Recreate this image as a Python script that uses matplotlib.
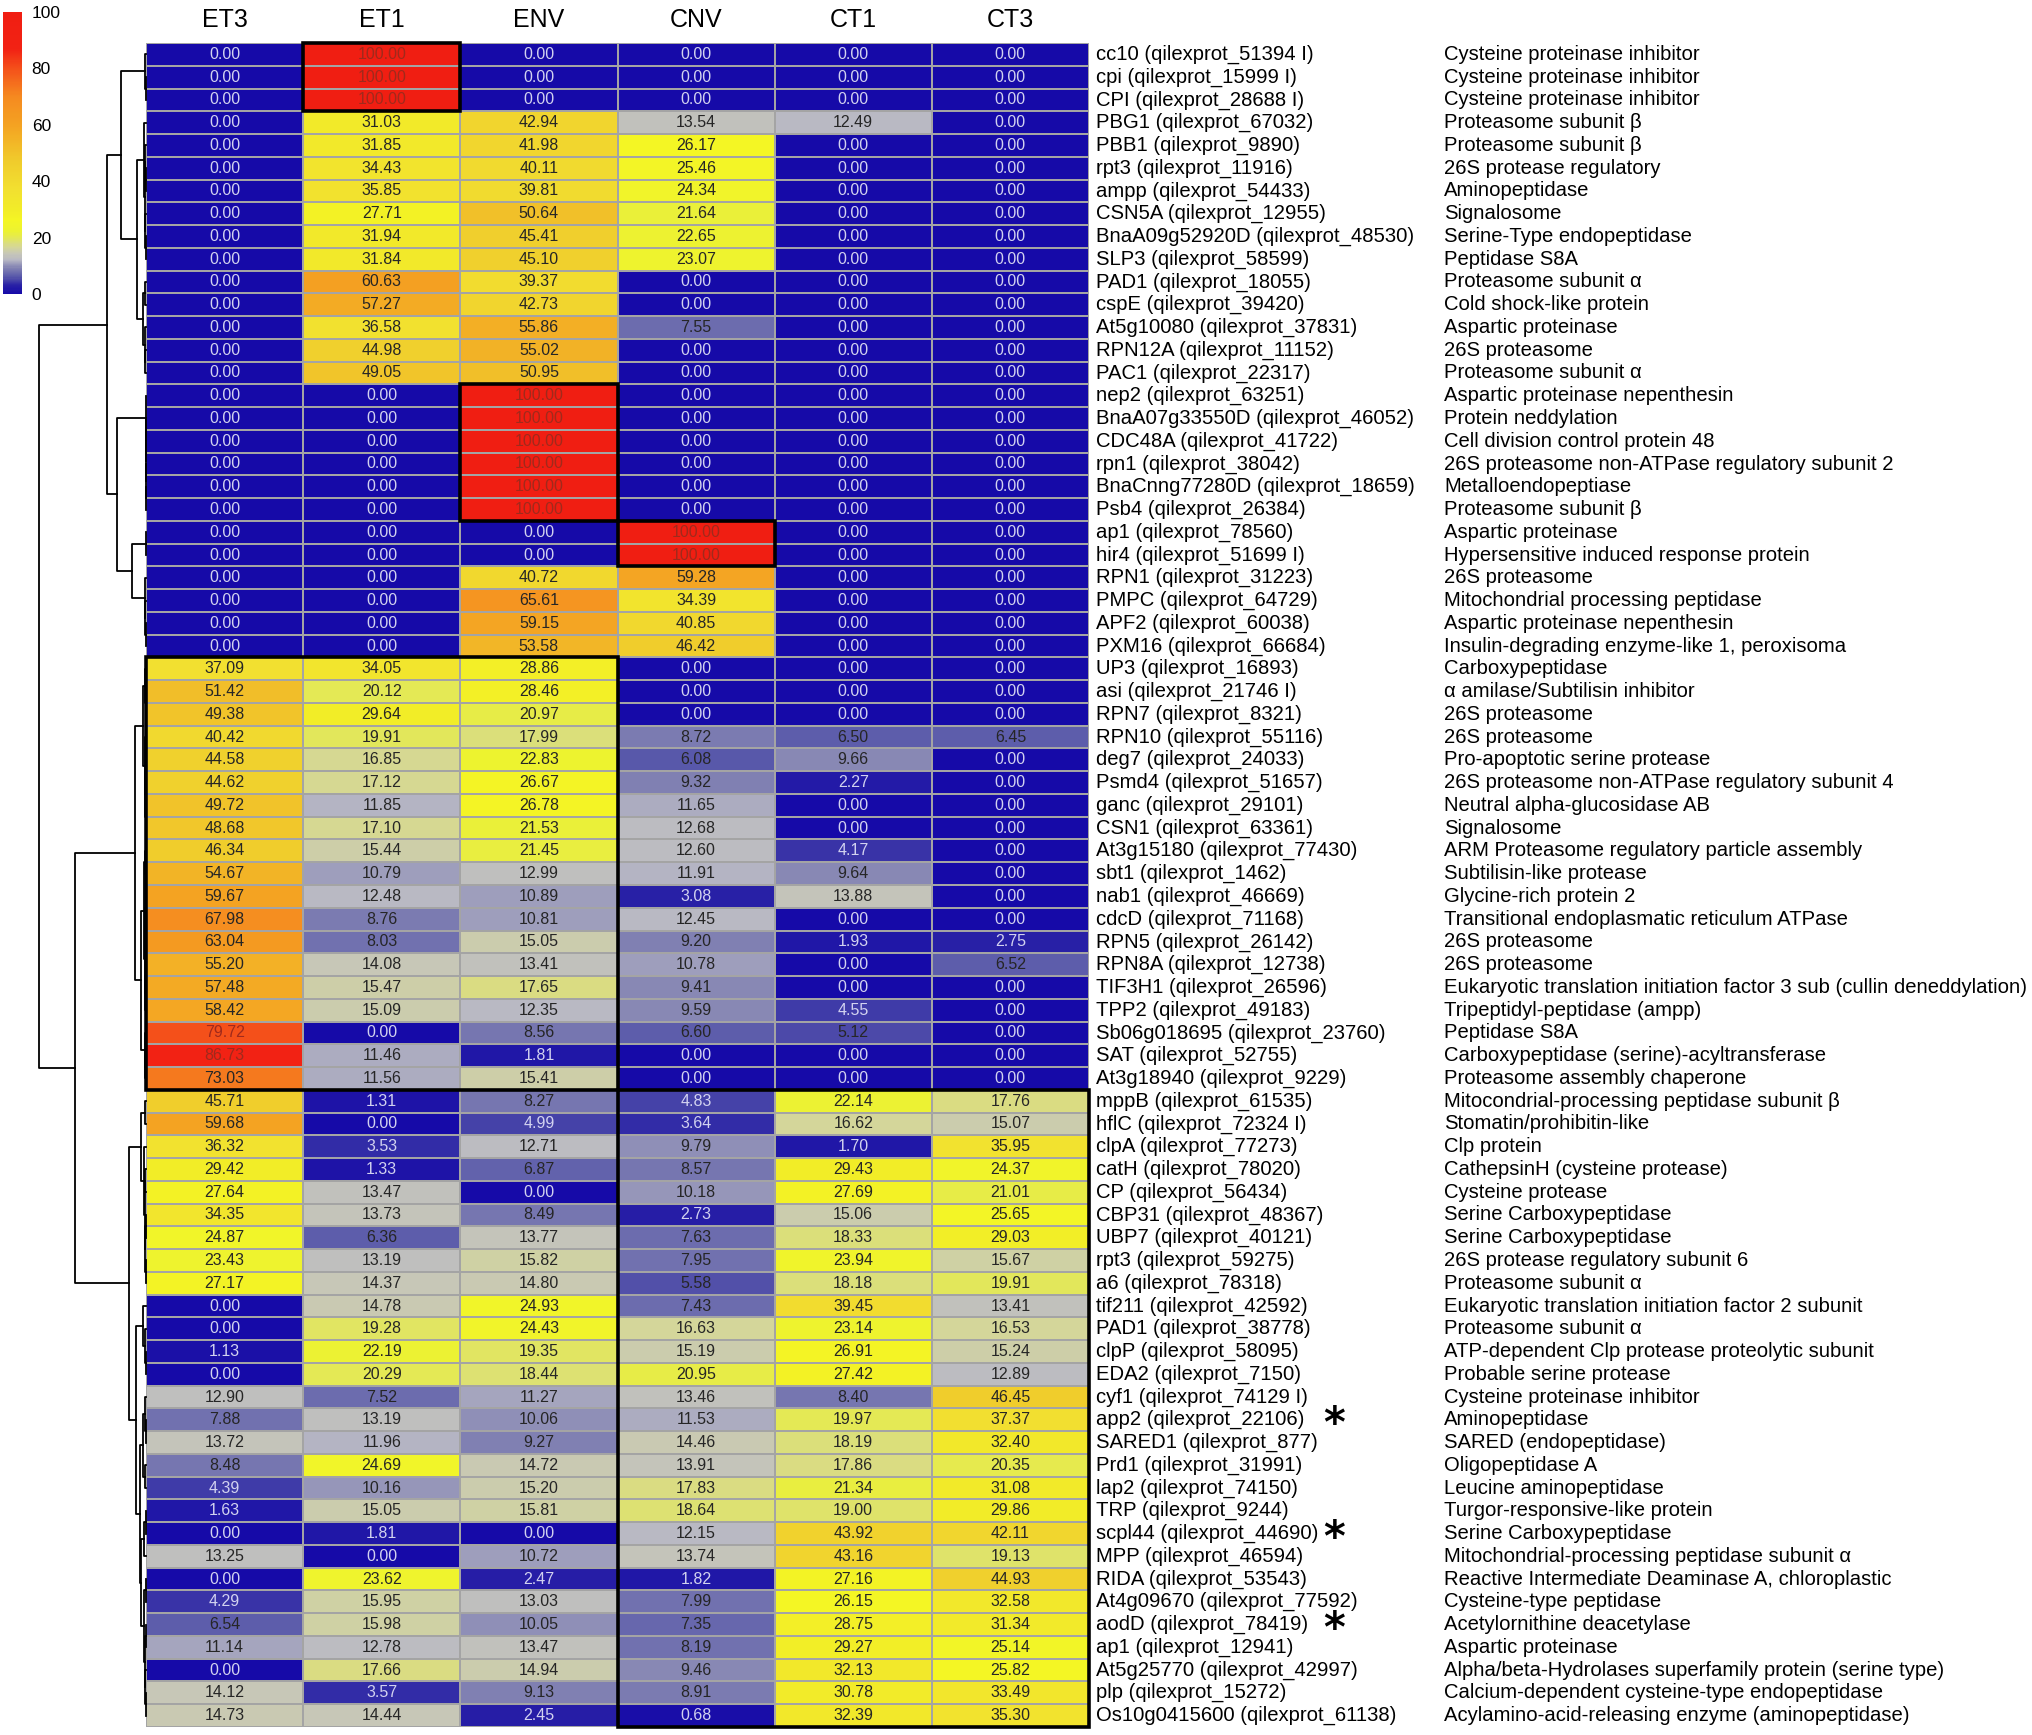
import numpy as np
import matplotlib
matplotlib.use("Agg")
import matplotlib.pyplot as plt
from matplotlib.colors import LinearSegmentedColormap, Normalize
from matplotlib.patches import Rectangle
import matplotlib.cm as cm

plt.rcParams['font.family'] = ['Liberation Sans', 'DejaVu Sans']

samples = ["ET3", "ET1", "ENV", "CNV", "CT1", "CT3"]

genes = [
    "cc10 (qilexprot_51394 I)", "cpi (qilexprot_15999 I)", "CPI (qilexprot_28688 I)",
    "PBG1 (qilexprot_67032)", "PBB1 (qilexprot_9890)", "rpt3 (qilexprot_11916)",
    "ampp (qilexprot_54433)", "CSN5A (qilexprot_12955)", "BnaA09g52920D (qilexprot_48530)",
    "SLP3 (qilexprot_58599)", "PAD1 (qilexprot_18055)", "cspE (qilexprot_39420)",
    "At5g10080 (qilexprot_37831)", "RPN12A (qilexprot_11152)", "PAC1 (qilexprot_22317)",
    "nep2 (qilexprot_63251)", "BnaA07g33550D (qilexprot_46052)", "CDC48A (qilexprot_41722)",
    "rpn1 (qilexprot_38042)", "BnaCnng77280D (qilexprot_18659)", "Psb4 (qilexprot_26384)",
    "ap1 (qilexprot_78560)", "hir4 (qilexprot_51699 I)", "RPN1 (qilexprot_31223)",
    "PMPC (qilexprot_64729)", "APF2 (qilexprot_60038)", "PXM16 (qilexprot_66684)",
    "UP3 (qilexprot_16893)", "asi (qilexprot_21746 I)", "RPN7 (qilexprot_8321)",
    "RPN10 (qilexprot_55116)", "deg7 (qilexprot_24033)", "Psmd4 (qilexprot_51657)",
    "ganc (qilexprot_29101)", "CSN1 (qilexprot_63361)", "At3g15180 (qilexprot_77430)",
    "sbt1 (qilexprot_1462)", "nab1 (qilexprot_46669)", "cdcD (qilexprot_71168)",
    "RPN5 (qilexprot_26142)", "RPN8A (qilexprot_12738)", "TIF3H1 (qilexprot_26596)",
    "TPP2 (qilexprot_49183)", "Sb06g018695 (qilexprot_23760)", "SAT (qilexprot_52755)",
    "At3g18940 (qilexprot_9229)", "mppB (qilexprot_61535)", "hflC (qilexprot_72324 I)",
    "clpA (qilexprot_77273)", "catH (qilexprot_78020)", "CP (qilexprot_56434)",
    "CBP31 (qilexprot_48367)", "UBP7 (qilexprot_40121)", "rpt3 (qilexprot_59275)",
    "a6 (qilexprot_78318)", "tif211 (qilexprot_42592)", "PAD1 (qilexprot_38778)",
    "clpP (qilexprot_58095)", "EDA2 (qilexprot_7150)", "cyf1 (qilexprot_74129 I)",
    "app2 (qilexprot_22106)", "SARED1 (qilexprot_877)", "Prd1 (qilexprot_31991)",
    "lap2 (qilexprot_74150)", "TRP (qilexprot_9244)", "scpl44 (qilexprot_44690)",
    "MPP (qilexprot_46594)", "RIDA (qilexprot_53543)", "At4g09670 (qilexprot_77592)",
    "aodD (qilexprot_78419)", "ap1 (qilexprot_12941)", "At5g25770 (qilexprot_42997)",
    "plp (qilexprot_15272)", "Os10g0415600 (qilexprot_61138)",
]

descriptions = [
    "Cysteine proteinase inhibitor", "Cysteine proteinase inhibitor", "Cysteine proteinase inhibitor",
    "Proteasome subunit β", "Proteasome subunit β", "26S protease regulatory",
    "Aminopeptidase", "Signalosome", "Serine-Type endopeptidase",
    "Peptidase S8A", "Proteasome subunit α", "Cold shock-like protein",
    "Aspartic proteinase", "26S proteasome", "Proteasome subunit α",
    "Aspartic proteinase nepenthesin", "Protein neddylation", "Cell division control protein 48",
    "26S proteasome non-ATPase regulatory subunit 2", "Metalloendopeptiase", "Proteasome subunit β",
    "Aspartic proteinase", "Hypersensitive induced response protein", "26S proteasome",
    "Mitochondrial processing peptidase", "Aspartic proteinase nepenthesin",
    "Insulin-degrading enzyme-like 1, peroxisoma",
    "Carboxypeptidase", "α amilase/Subtilisin inhibitor", "26S proteasome",
    "26S proteasome", "Pro-apoptotic serine protease", "26S proteasome non-ATPase regulatory subunit 4",
    "Neutral alpha-glucosidase AB", "Signalosome", "ARM Proteasome regulatory particle assembly",
    "Subtilisin-like protease", "Glycine-rich protein 2", "Transitional endoplasmatic reticulum ATPase",
    "26S proteasome", "26S proteasome",
    "Eukaryotic translation initiation factor 3 sub (cullin deneddylation)",
    "Tripeptidyl-peptidase (ampp)", "Peptidase S8A", "Carboxypeptidase (serine)-acyltransferase",
    "Proteasome assembly chaperone", "Mitocondrial-processing peptidase subunit β",
    "Stomatin/prohibitin-like", "Clp protein", "CathepsinH (cysteine protease)",
    "Cysteine protease", "Serine Carboxypeptidase", "Serine Carboxypeptidase",
    "26S protease regulatory subunit 6", "Proteasome subunit α",
    "Eukaryotic translation initiation factor 2 subunit", "Proteasome subunit α",
    "ATP-dependent Clp protease proteolytic subunit", "Probable serine protease",
    "Cysteine proteinase inhibitor", "Aminopeptidase", "SARED (endopeptidase)",
    "Oligopeptidase A", "Leucine aminopeptidase", "Turgor-responsive-like protein",
    "Serine Carboxypeptidase", "Mitochondrial-processing peptidase subunit α",
    "Reactive Intermediate Deaminase A, chloroplastic", "Cysteine-type peptidase",
    "Acetylornithine deacetylase", "Aspartic proteinase",
    "Alpha/beta-Hydrolases superfamily protein (serine type)",
    "Calcium-dependent cysteine-type endopeptidase",
    "Acylamino-acid-releasing enzyme (aminopeptidase)",
]

et3 = [0, 0, 0, 0, 0, 0, 0, 0, 0, 0, 0, 0, 0, 0, 0,
       0, 0, 0, 0, 0, 0, 0, 0, 0, 0, 0, 0,
       37.09, 51.42, 49.38, 40.42, 44.58, 44.62, 49.72, 48.68, 46.34, 54.67,
       59.67, 67.98, 63.04, 55.20, 57.48, 58.42, 79.72, 86.73, 73.03,
       45.71, 59.68, 36.32, 29.42, 27.64, 34.35, 24.87, 23.43, 27.17, 0.00,
       0.00, 1.13, 0.00, 12.90, 7.88, 13.72, 8.48, 4.39, 1.63, 0.00,
       13.25, 0.00, 4.29, 6.54, 11.14, 0.00, 14.12, 14.73]
et1 = [100, 100, 100, 31.03, 31.85, 34.43, 35.85, 27.71, 31.94, 31.84,
       60.63, 57.27, 36.58, 44.98, 49.05, 0, 0, 0, 0, 0, 0, 0, 0, 0, 0, 0, 0,
       34.05, 20.12, 29.64, 19.91, 16.85, 17.12, 11.85, 17.10, 15.44, 10.79,
       12.48, 8.76, 8.03, 14.08, 15.47, 15.09, 0.00, 11.46, 11.56,
       1.31, 0.00, 3.53, 1.33, 13.47, 13.73, 6.36, 13.19, 14.37, 14.78,
       19.28, 22.19, 20.29, 7.52, 13.19, 11.96, 24.69, 10.16, 15.05, 1.81,
       0.00, 23.62, 15.95, 15.98, 12.78, 17.66, 3.57, 14.44]
env = [0, 0, 0, 42.94, 41.98, 40.11, 39.81, 50.64, 45.41, 45.10,
       39.37, 42.73, 55.86, 55.02, 50.95, 100, 100, 100, 100, 100, 100,
       0, 0, 40.72, 65.61, 59.15, 53.58,
       28.86, 28.46, 20.97, 17.99, 22.83, 26.67, 26.78, 21.53, 21.45, 12.99,
       10.89, 10.81, 15.05, 13.41, 17.65, 12.35, 8.56, 1.81, 15.41,
       8.27, 4.99, 12.71, 6.87, 0.00, 8.49, 13.77, 15.82, 14.80, 24.93,
       24.43, 19.35, 18.44, 11.27, 10.06, 9.27, 14.72, 15.20, 15.81, 0.00,
       10.72, 2.47, 13.03, 10.05, 13.47, 14.94, 9.13, 2.45]
cnv = [0, 0, 0, 13.54, 26.17, 25.46, 24.34, 21.64, 22.65, 23.07,
       0, 0, 7.55, 0, 0, 0, 0, 0, 0, 0, 0,
       100, 100, 59.28, 34.39, 40.85, 46.42,
       0, 0, 0, 8.72, 6.08, 9.32, 11.65, 12.68, 12.60, 11.91,
       3.08, 12.45, 9.20, 10.78, 9.41, 9.59, 6.60, 0, 0,
       4.83, 3.64, 9.79, 8.57, 10.18, 2.73, 7.63, 7.95, 5.58, 7.43,
       16.63, 15.19, 20.95, 13.46, 11.53, 14.46, 13.91, 17.83, 18.64, 12.15,
       13.74, 1.82, 7.99, 7.35, 8.19, 9.46, 8.91, 0.68]
ct1 = [0, 0, 0, 12.49, 0, 0, 0, 0, 0, 0, 0, 0, 0, 0, 0,
       0, 0, 0, 0, 0, 0, 0, 0, 0, 0, 0, 0,
       0, 0, 0, 6.50, 9.66, 2.27, 0, 0, 4.17, 9.64,
       13.88, 0, 1.93, 0, 0, 4.55, 5.12, 0, 0,
       22.14, 16.62, 1.70, 29.43, 27.69, 15.06, 18.33, 23.94, 18.18, 39.45,
       23.14, 26.91, 27.42, 8.40, 19.97, 18.19, 17.86, 21.34, 19.00, 43.92,
       43.16, 27.16, 26.15, 28.75, 29.27, 32.13, 30.78, 32.39]
ct3 = [0, 0, 0, 0, 0, 0, 0, 0, 0, 0, 0, 0, 0, 0, 0,
       0, 0, 0, 0, 0, 0, 0, 0, 0, 0, 0, 0,
       0, 0, 0, 6.45, 0, 0, 0, 0, 0, 0,
       0, 0, 2.75, 6.52, 0, 0, 0, 0, 0,
       17.76, 15.07, 35.95, 24.37, 21.01, 25.65, 29.03, 15.67, 19.91, 13.41,
       16.53, 15.24, 12.89, 46.45, 37.37, 32.40, 20.35, 31.08, 29.86, 42.11,
       19.13, 44.93, 32.58, 31.34, 25.14, 25.82, 33.49, 35.30]

starred = ["app2 (qilexprot_22106)", "scpl44 (qilexprot_44690)", "aodD (qilexprot_78419)"]

# highlighted blocks: first gene row, last gene row (1-based), first / last sample
boxes = [(1, 3, "ET1", "ET1"), (16, 21, "ENV", "ENV"), (22, 23, "CNV", "CNV"),
         (28, 46, "ET3", "ENV"), (47, 74, "CNV", "CT3")]

# row dendrogram: [left, right, merge height], leaves = gene rows (1-based)
top3 = [1, [2, 3, 0.2], 0.6]
r4_10 = [4, [[5, [6, 7, 0.4], 0.7], [8, [9, 10, 0.3], 0.8], 1.2], 1.7]
r11_15 = [[11, 12, 0.8], [13, [14, 15, 0.6], 1.2], 2.7]
r16_21 = [16, [17, [18, [19, [20, 21, 0.05], 0.05], 0.05], 0.05], 0.05]
r24_27 = [24, [25, [26, 27, 0.5], 0.9], 1.5]
grp_a = [[top3, [r4_10, r11_15, 9.3], 25.0],
         [r16_21, [[22, 23, 0.05], r24_27, 13.7], 29.3], 39.3]
b1a = [[28, [29, 30, 0.4], 0.9], [31, [[32, 33, 0.4], [34, 35, 0.5], 0.9], 1.4], 3.3]
b1b = [[[36, 37, 0.8], [[[38, 39, 0.5], 40, 0.9], [[41, 42, 0.4], 43, 0.7], 1.3], 2.0],
       [44, [45, 46, 0.8], 1.3], 5.3]
b2a = [[47, 48, 1.5], [49, [[50, 51, 0.6], [[52, 53, 0.5], [54, 55, 0.4], 0.8], 1.2], 1.8], 5.3]
b2b_top = [56, [57, [58, 59, 0.4], 0.8], 2.7]
b2b_bot = [[[60, [61, 62, 0.5], 1.0], [63, 64, 0.8], 3.3],
           [[[65, 66, 0.5], 67, 2.0],
            [[68, 69, 0.5], [[70, 71, 0.4], [72, [73, 74, 0.3], 0.6], 0.9], 1.8], 5.0], 6.0]
grp_b = [[b1a, b1b, 11.5], [b2a, [b2b_top, b2b_bot, 10.0], 16.7], 71.0]
tree = [grp_a, grp_b, 107.0]

cmap = LinearSegmentedColormap.from_list("hm", [
    (0.00, "#160aa8"), (0.03, "#2a22a6"), (0.06, "#5a5aaa"), (0.09, "#8080b2"),
    (0.12, "#b8b8c4"), (0.14, "#c6c6b8"), (0.165, "#d4d69a"), (0.19, "#e0e466"),
    (0.22, "#ecf232"), (0.26, "#f4f624"), (0.30, "#f2ec28"), (0.37, "#f2e030"),
    (0.47, "#f0cc2c"), (0.60, "#f4a222"), (0.70, "#f58a20"), (0.80, "#f4501a"),
    (0.87, "#f22214"), (1.00, "#f01e12")])

W, H = 2032, 1735
fig = plt.figure(figsize=(W / 100, H / 100), dpi=100)
fig.patch.set_facecolor("white")

hm_l, hm_r, hm_t, hm_b = 146, 1089, 43, 1727
ax = fig.add_axes([hm_l / W, 1 - hm_b / H, (hm_r - hm_l) / W, (hm_b - hm_t) / H])
mat = np.array([et3, et1, env, cnv, ct1, ct3]).T
n_rows, n_cols = mat.shape
ax.pcolormesh(np.arange(n_cols + 1) - 0.5, np.arange(n_rows + 1) - 0.5, mat,
              cmap=cmap, vmin=0, vmax=100, edgecolors="#a4a4a4", linewidth=1.3)
ax.set_xlim(-0.5, n_cols - 0.5)
ax.set_ylim(n_rows - 0.5, -0.5)
ax.axis("off")

row_px = (hm_b - hm_t) / n_rows
col_px = (hm_r - hm_l) / n_cols

for i in range(n_rows):
    for j in range(n_cols):
        v = mat[i, j]
        if v < 5:
            tc = "#d2d2f0"
        elif v >= 75:
            tc = "#a02a1c"
        else:
            tc = "#262626"
        ax.text(j, i, f"{v:.2f}", ha="center", va="center", fontsize=11.5, color=tc)

for j, s in enumerate(samples):
    ax.text(j, -0.5 - (hm_t - 20) / row_px, s, ha="center", va="center", fontsize=18)

x_gene = n_cols - 0.5 + (1096 - hm_r) / col_px
x_desc = n_cols - 0.5 + (1444 - hm_r) / col_px
x_star = n_cols - 0.5 + (1334 - hm_r) / col_px
for i, (g, d) in enumerate(zip(genes, descriptions)):
    ax.text(x_gene, i, g, ha="left", va="center", fontsize=14.6, clip_on=False)
    ax.text(x_desc, i, d, ha="left", va="center", fontsize=14.6, clip_on=False)
    if g in starred:
        ax.text(x_star, i + 0.25, "*", ha="center", va="center", fontsize=30,
                fontweight="bold", family="DejaVu Sans", clip_on=False)

for r0, r1, c0, c1 in boxes:
    j0, j1 = samples.index(c0), samples.index(c1)
    ax.add_patch(Rectangle((j0 - 0.5, r0 - 1.5), j1 - j0 + 1, r1 - r0 + 1, fill=False,
                           edgecolor="black", lw=2.6, zorder=5, clip_on=False))

# dendrogram
dax = fig.add_axes([0, 1 - hm_b / H, hm_l / W, (hm_b - hm_t) / H])
dax.set_xlim(hm_l, 0)
dax.set_ylim(n_rows - 0.5, -0.5)
dax.axis("off")


def draw_node(node):
    if isinstance(node, int):
        return node - 1, 0.0
    left, right, h = node
    yl, hl = draw_node(left)
    yr, hr = draw_node(right)
    dax.plot([hl, h, h, hr], [yl, yl, yr, yr], color="black", lw=1.3, clip_on=False)
    return (yl + yr) / 2, h


draw_node(tree)

# colour bar
cax = fig.add_axes([3 / W, 1 - 294 / H, 19 / W, 282 / H])
cb = fig.colorbar(cm.ScalarMappable(norm=Normalize(0, 100), cmap=cmap), cax=cax)
cb.set_ticks([0, 20, 40, 60, 80, 100])
cb.outline.set_visible(False)
cax.tick_params(length=0, pad=7, labelsize=12.5)

fig.savefig("out.png", dpi=100, facecolor="white")
